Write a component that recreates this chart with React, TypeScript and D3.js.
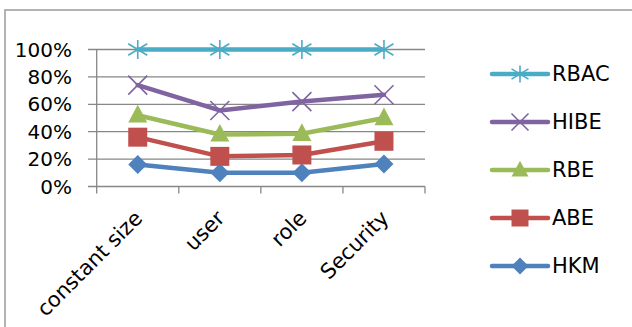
import React, { useEffect, useRef } from 'react';
import * as d3 from 'd3';

const categories = ['constant size', 'user', 'role', 'Security'];
const seriesNames = ['RBAC', 'HIBE', 'RBE', 'ABE', 'HKM'];
const rbac = [1.0, 1.0, 1.0, 1.0];
const hibe = [0.74, 0.555, 0.62, 0.67];
const rbe = [0.52, 0.38, 0.385, 0.50];
const abe = [0.36, 0.22, 0.23, 0.33];
const hkm = [0.16, 0.10, 0.10, 0.165];
const yTicks = [0, 0.2, 0.4, 0.6, 0.8, 1.0];

const colors: Record<string, string> = {
    RBAC: '#4BACC6',
    HIBE: '#8064A2',
    RBE: '#9BBB59',
    ABE: '#C0504D',
    HKM: '#4F81BD',
};

type Marker = 'star' | 'x' | 'triangle' | 'square' | 'diamond';
const markers: Record<string, Marker> = {
    RBAC: 'star',
    HIBE: 'x',
    RBE: 'triangle',
    ABE: 'square',
    HKM: 'diamond',
};

const FONT = '"DejaVu Sans", sans-serif';

// marker path centered on 0,0
const markerPath = (m: Marker, s: number) => {
    const p = d3.path();
    const h = s / 2;
    if (m === 'square') {
        p.rect(-h, -h, s, s);
    } else if (m === 'diamond') {
        p.moveTo(0, -h); p.lineTo(h, 0); p.lineTo(0, h); p.lineTo(-h, 0); p.closePath();
    } else if (m === 'triangle') {
        p.moveTo(0, -h * 1.1); p.lineTo(h, h * 0.75); p.lineTo(-h, h * 0.75); p.closePath();
    } else if (m === 'x') {
        p.moveTo(-h, -h); p.lineTo(h, h); p.moveTo(-h, h); p.lineTo(h, -h);
    } else {
        p.moveTo(0, -h); p.lineTo(0, h);
        p.moveTo(-h, -h * 0.6); p.lineTo(h, h * 0.6);
        p.moveTo(-h, h * 0.6); p.lineTo(h, -h * 0.6);
    }
    return p.toString();
};

const App: React.FC = () => {
    const svgRef = useRef<SVGSVGElement>(null);

    useEffect(() => {
        if (!svgRef.current) return;
        const svg = d3.select(svgRef.current);
        svg.selectAll('*').remove();

        const data: Record<string, number[]> = { RBAC: rbac, HIBE: hibe, RBE: rbe, ABE: abe, HKM: hkm };

        // outer frame
        svg.append('rect')
            .attr('x', 5).attr('y', 10).attr('width', 700).attr('height', 400)
            .attr('fill', 'white').attr('stroke', '#9a9a9a').attr('stroke-width', 1.5);

        const x = d3.scaleBand<string>().domain(categories).range([96.7, 425]);
        const y = d3.scaleLinear().domain([0, 1]).range([186.5, 49.5]);
        const cx = (c: string) => x(c)! + x.bandwidth() / 2;

        // grid lines + y ticks
        svg.append('g').selectAll('line')
            .data(yTicks)
            .join('line')
            .attr('x1', 88).attr('x2', 425)
            .attr('y1', d => y(d)).attr('y2', d => y(d))
            .attr('stroke', '#878787').attr('stroke-width', 1.3);

        // y axis line
        svg.append('line')
            .attr('x1', 96.7).attr('x2', 96.7).attr('y1', y(1)).attr('y2', y(0))
            .attr('stroke', '#878787').attr('stroke-width', 1.3);

        // x ticks at category boundaries
        const bounds = categories.map(c => x(c)!).concat([x.range()[1]]);
        svg.append('g').selectAll('line')
            .data(bounds)
            .join('line')
            .attr('x1', d => d).attr('x2', d => d)
            .attr('y1', y(0)).attr('y2', y(0) + 7)
            .attr('stroke', '#878787').attr('stroke-width', 1.3);

        // y labels
        svg.append('g').selectAll('text')
            .data(yTicks)
            .join('text')
            .attr('x', 72).attr('y', d => y(d))
            .attr('text-anchor', 'end').attr('dominant-baseline', 'central')
            .style('font-family', FONT).style('font-size', '20px').attr('fill', '#000')
            .text(d => `${Math.round(d * 100)}%`);

        // category labels
        svg.append('g').selectAll('text')
            .data(categories)
            .join('text')
            .attr('transform', d => `translate(${cx(d) + 6},${y(0) + 33}) rotate(-45)`)
            .attr('text-anchor', 'end')
            .style('font-family', FONT).style('font-size', '21px').attr('fill', '#000')
            .text(d => d);

        const line = d3.line<number>()
            .x((_, i) => cx(categories[i]))
            .y(d => y(d));

        // draw from bottom so RBAC ends on top
        [...seriesNames].reverse().forEach(name => {
            const g = svg.append('g');
            const col = colors[name];
            g.append('path')
                .attr('d', line(data[name]))
                .attr('fill', 'none').attr('stroke', col)
                .attr('stroke-width', 4.5).attr('stroke-linejoin', 'round').attr('stroke-linecap', 'round');
            const m = markers[name];
            const stroked = m === 'x' || m === 'star';
            g.selectAll('path.m')
                .data(data[name])
                .join('path')
                .attr('class', 'm')
                .attr('transform', (d, i) => `translate(${cx(categories[i])},${y(d)})`)
                .attr('d', markerPath(m, 19))
                .attr('fill', stroked ? 'none' : col)
                .attr('stroke', col)
                .attr('stroke-width', stroked ? 1.6 : 0);
        });

        // legend
        const legendY = d3.scalePoint<string>().domain(seriesNames).range([74, 266]);
        const lg = svg.append('g');
        seriesNames.forEach(name => {
            const ly = legendY(name)!;
            const col = colors[name];
            const m = markers[name];
            const stroked = m === 'x' || m === 'star';
            lg.append('line')
                .attr('x1', 492).attr('x2', 548).attr('y1', ly).attr('y2', ly)
                .attr('stroke', col).attr('stroke-width', 4.5).attr('stroke-linecap', 'round');
            lg.append('path')
                .attr('transform', `translate(520,${ly})`)
                .attr('d', markerPath(m, 17))
                .attr('fill', stroked ? 'none' : col)
                .attr('stroke', col).attr('stroke-width', stroked ? 1.6 : 0);
            lg.append('text')
                .attr('x', 552).attr('y', ly)
                .attr('dominant-baseline', 'central')
                .style('font-family', FONT).style('font-size', '21px').attr('fill', '#000')
                .text(name);
        });
    }, []);

    return (
        <svg
            ref={svgRef}
            width={632}
            height={327}
            style={{ position: 'absolute', left: 0, top: 0, background: 'white' }}
        />
    );
};

export default App;
